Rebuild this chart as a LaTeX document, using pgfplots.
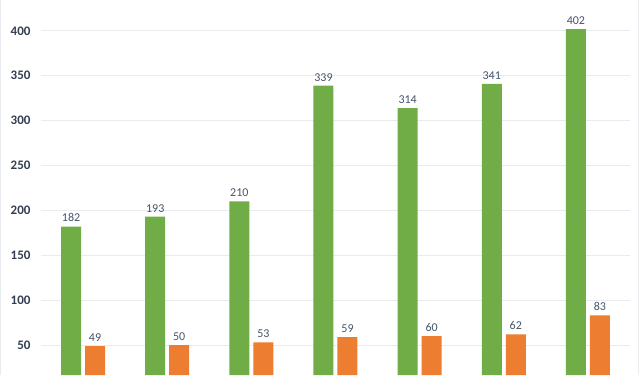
\documentclass[border=0pt]{standalone}
\usepackage{pgfplots}
\pgfplotsset{compat=1.18}
\usepackage{fontspec}
\setmainfont{Carlito}
\definecolor{cgreen}{HTML}{70AD47}
\definecolor{corange}{HTML}{ED7D31}
\definecolor{clabel}{HTML}{44546A}
\definecolor{ctick}{HTML}{333F50}
\definecolor{cgrid}{HTML}{E9EBF0}
\begin{document}
\begin{tikzpicture}[x=1pt,y=1pt]
\useasboundingbox (0,0) rectangle (640,375);
\draw[color=cgrid, line width=1pt] (0.5,0) -- (0.5,375);
\draw[color=cgrid, line width=1pt] (638,0) -- (638,375);
\begin{axis}[
  at={(41pt,0pt)}, anchor=south west,
  scale only axis, width=589pt, height=375pt,
  xmin=-0.5, xmax=6.5, ymin=16.7, ymax=434.4,
  axis line style={draw=none},
  tick style={draw=none},
  xtick=\empty,
  ytick={50,100,...,400},
  ymajorgrids, grid style={color=cgrid, line width=1pt},
  yticklabel style={font=\fontsize{13}{13}\selectfont\bfseries, text=ctick, xshift=-7pt},
  /pgf/number format/assume math mode=true,
  ybar, bar width=20pt,
  nodes near coords,
  every node near coord/.append style={font=\fontsize{12}{12}\selectfont, text=clabel, yshift=1pt},
  clip=false,
]
\addplot[fill=cgreen, draw=none, bar shift=-12pt] coordinates {(0,182) (1,193) (2,210) (3,339) (4,314) (5,341) (6,402)};
\addplot[fill=corange, draw=none, bar shift=12pt] coordinates {(0,49) (1,50) (2,53) (3,59) (4,60) (5,62) (6,83)};
\end{axis}
\end{tikzpicture}
\end{document}
